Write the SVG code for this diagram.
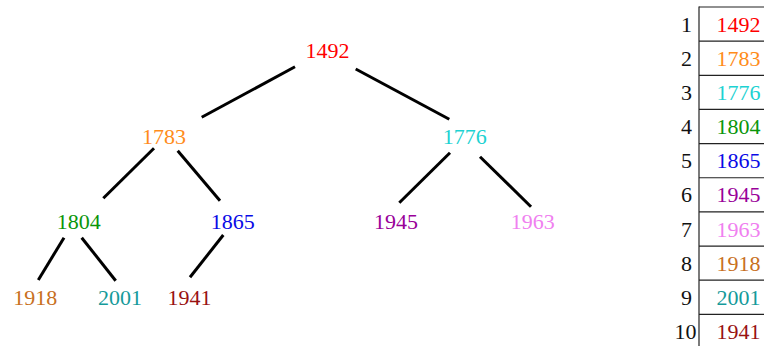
<svg xmlns="http://www.w3.org/2000/svg" width="764" height="346" viewBox="0 0 764 346">
<style>
text{font-family:"Liberation Serif","Times New Roman",serif;font-size:22px;text-anchor:middle}
.e{stroke:#000;stroke-width:3;fill:none}
.t{stroke:#222;stroke-width:1.2;fill:none}
.idx{fill:#111}
</style>
<rect width="764" height="346" fill="#fff"/>
<g id="connectors">
<line class="e" x1="295" y1="66.7" x2="201.7" y2="117.3"/>
<line class="e" x1="355.7" y1="69" x2="449.3" y2="119.3"/>
<line class="e" x1="154" y1="148.3" x2="103.3" y2="198.3"/>
<line class="e" x1="177.7" y1="150.7" x2="220" y2="200.7"/>
<line class="e" x1="450" y1="152.7" x2="399.3" y2="202.7"/>
<line class="e" x1="480" y1="156.7" x2="531" y2="206.7"/>
<line class="e" x1="64" y1="237.7" x2="38.3" y2="280"/>
<line class="e" x1="81.7" y1="237.7" x2="115.7" y2="280.7"/>
<line class="e" x1="223.3" y1="235" x2="190" y2="277.3"/>
</g>
<g id="n1492"><text x="327.5" y="58" fill="#ff0000">1492</text></g>
<g id="n1783"><text x="164" y="144" fill="#ff8c1a">1783</text></g>
<g id="n1776"><text x="464.7" y="144" fill="#1cd2d2">1776</text></g>
<g id="n1804"><text x="78.7" y="228.5" fill="#0a960a">1804</text></g>
<g id="n1865"><text x="232.8" y="228.5" fill="#0a0ae6">1865</text></g>
<g id="n1945"><text x="396" y="228.5" fill="#990099">1945</text></g>
<g id="n1963"><text x="532.8" y="228.5" fill="#f080f0">1963</text></g>
<g id="n1918"><text x="35.3" y="305" fill="#c8701e">1918</text></g>
<g id="n2001"><text x="120" y="305" fill="#159a9a">2001</text></g>
<g id="n1941"><text x="189.5" y="305" fill="#991111">1941</text></g>
<g id="table">
<line class="t" x1="699" y1="6.5" x2="699" y2="346"/>
<line class="t" x1="699" y1="7" x2="764" y2="7"/>
<line class="t" x1="699" y1="41.15" x2="764" y2="41.15"/>
<line class="t" x1="699" y1="75.3" x2="764" y2="75.3"/>
<line class="t" x1="699" y1="109.45" x2="764" y2="109.45"/>
<line class="t" x1="699" y1="143.6" x2="764" y2="143.6"/>
<line class="t" x1="699" y1="177.75" x2="764" y2="177.75"/>
<line class="t" x1="699" y1="211.9" x2="764" y2="211.9"/>
<line class="t" x1="699" y1="246.05" x2="764" y2="246.05"/>
<line class="t" x1="699" y1="280.2" x2="764" y2="280.2"/>
<line class="t" x1="699" y1="314.35" x2="764" y2="314.35"/>
<text class="idx" x="686.5" y="31.7">1</text>
<text class="idx" x="686.5" y="65.85">2</text>
<text class="idx" x="686.5" y="100">3</text>
<text class="idx" x="686.5" y="134.15">4</text>
<text class="idx" x="686.5" y="168.3">5</text>
<text class="idx" x="686.5" y="202.45">6</text>
<text class="idx" x="686.5" y="236.6">7</text>
<text class="idx" x="686.5" y="270.75">8</text>
<text class="idx" x="686.5" y="304.9">9</text>
<text class="idx" x="685.5" y="339.05">10</text>
<text x="738.5" y="31.7" fill="#ff0000">1492</text>
<text x="738.5" y="65.85" fill="#ff8c1a">1783</text>
<text x="738.5" y="100" fill="#1cd2d2">1776</text>
<text x="738.5" y="134.15" fill="#0a960a">1804</text>
<text x="738.5" y="168.3" fill="#0a0ae6">1865</text>
<text x="738.5" y="202.45" fill="#990099">1945</text>
<text x="738.5" y="236.6" fill="#f080f0">1963</text>
<text x="738.5" y="270.75" fill="#c8701e">1918</text>
<text x="738.5" y="304.9" fill="#159a9a">2001</text>
<text x="738.5" y="339.05" fill="#991111">1941</text>
</g>
</svg>
